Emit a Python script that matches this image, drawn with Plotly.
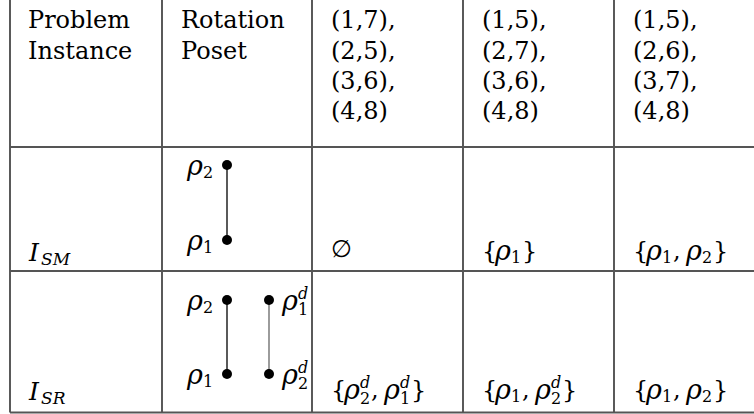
import plotly.graph_objects as go

# ---- table content ----
header = [["Problem", "Instance"], ["Rotation", "Poset"]]
matchings = [
    [(1, 7), (2, 5), (3, 6), (4, 8)],
    [(1, 5), (2, 7), (3, 6), (4, 8)],
    [(1, 5), (2, 6), (3, 7), (4, 8)],
]
instances = [("I", "SM"), ("I", "SR")]
# closed subsets per instance, each rotation = (index, is_dual)
closed_sets = [
    [[], [(1, False)], [(1, False), (2, False)]],
    [[(2, True), (1, True)], [(1, False), (2, True)], [(1, False), (2, False)]],
]
# rotation posets: chains of rotations, bottom to top
poset_chains = [
    [[(1, False), (2, False)]],
    [[(1, False), (2, False)], [(2, True), (1, True)]],
]

# ---- layout (pixels) ----
W, H = 754, 414
col_lines = [10, 162, 312, 463, 614]
row_lines = [147, 271, 412.5]
text_x = [27, 180, 330, 481, 632]
head_y = [20, 51, 81, 111]
row_text_y = [251, 390]
node_y = [(240, 165), (374, 300)]
chain_x = [227, 269]
label_x = [185, 280]
FONT = "DejaVu Serif"
FS = 24
SS = 16
RHO = 27

fig = go.Figure()
ann = []


def txt(x, y, s, size=FS, italic=False):
    if italic:
        s = "<i>" + s + "</i>"
    ann.append(dict(x=x, y=y, xref="x", yref="y", text=s, showarrow=False,
                    xanchor="left", yanchor="middle", borderpad=0,
                    font=dict(family=FONT, size=size, color="black")))


WID = {"ρ": 17, "{": 12, "}": 10, ",": 12, "1": 11, "2": 11, "d": 11}


def atom(x, y, base, sub=None, sup=None, italic=True):
    txt(x, y - (1 if base == "ρ" else 0), base,
        size=RHO if base == "ρ" else FS, italic=italic)
    bx = x + WID.get(base, 12)
    if sub:
        txt(bx, y + (8 if sup else 6), sub, size=SS)
    if sup:
        txt(bx, y - 8, sup, size=SS, italic=True)
    w = max(WID.get(sub, 0) if sub else 0, WID.get(sup, 0) if sup else 0)
    return bx + w


def set_text(x, y, rots):
    if not rots:
        txt(x, y - 2, "∅")
        return
    x = atom(x, y, "{", italic=False)
    for i, (k, dual) in enumerate(rots):
        if i:
            x = atom(x, y, ",", italic=False)
        x = atom(x, y, "ρ", str(k), "d" if dual else None)
    atom(x, y, "}", italic=False)


# header
for c, lines in enumerate(header):
    for r, s in enumerate(lines):
        txt(text_x[c], head_y[r], s)
for c, pairs in enumerate(matchings):
    for r, (a, b) in enumerate(pairs):
        s = "(%d,%d)" % (a, b) + ("," if r < len(pairs) - 1 else "")
        txt(text_x[c + 2], head_y[r], s)

# body rows
for r, (base, sub) in enumerate(instances):
    yb = row_text_y[r] + 1
    txt(text_x[0], yb, base, size=FS + 1, italic=True)
    txt(text_x[0] + 13, yb + 7, sub, size=SS + 1, italic=True)
    for c, rots in enumerate(closed_sets[r]):
        set_text(text_x[c + 2], row_text_y[r], rots)

    for ci, chain in enumerate(poset_chains[r]):
        xs = [chain_x[ci]] * len(chain)
        ys = [node_y[r][lvl] for lvl in range(len(chain))]
        fig.add_trace(go.Scatter(x=xs, y=ys, mode="lines+markers",
                                 line=dict(color="black" if ci == 0 else "#666", width=1.3),
                                 marker=dict(color="black", size=10),
                                 showlegend=False, hoverinfo="skip"))
        for lvl, (k, dual) in enumerate(chain):
            atom(label_x[ci], ys[lvl] + 1, "ρ", str(k), "d" if dual else None)

shapes = []
for x in col_lines:
    shapes.append(dict(type="line", xref="x", yref="y", x0=x, x1=x, y0=0, y1=row_lines[-1],
                       line=dict(color="black", width=1.3), layer="below"))
for y in row_lines:
    shapes.append(dict(type="line", xref="x", yref="y", x0=col_lines[0], x1=W, y0=y, y1=y,
                       line=dict(color="#555", width=2), layer="below"))

fig.update_layout(
    width=W, height=H, margin=dict(l=0, r=0, t=0, b=0),
    plot_bgcolor="white", paper_bgcolor="white",
    xaxis=dict(range=[0, W], visible=False, fixedrange=True),
    yaxis=dict(range=[H, 0], visible=False, fixedrange=True),
    annotations=ann, shapes=shapes,
)
fig.write_html("out.html", config={"displayModeBar": False},
               post_script="document.body.style.margin='0';")
